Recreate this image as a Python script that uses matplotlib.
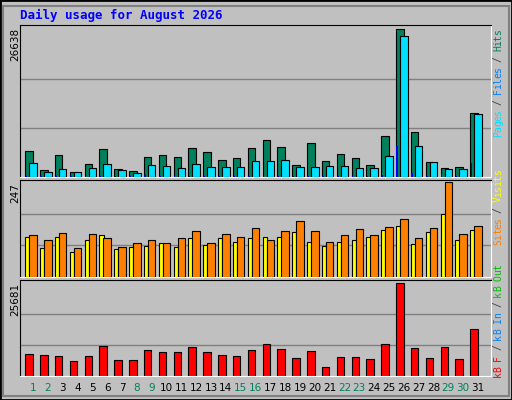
import matplotlib
matplotlib.use("Agg")
import matplotlib.pyplot as plt
from matplotlib.patches import Rectangle
import numpy as np

days = list(range(1, 32))
weekend = [1, 2, 8, 9, 15, 16, 22, 23, 29, 30]
hits = [4760, 1205, 3918, 964, 2290, 5123, 1507, 1145, 3677, 4038, 3677, 5304, 4580, 3134, 3496, 5304,
        6750, 5485, 2230, 6208, 2953, 4219, 3496, 2230, 7474, 26638, 8197, 2772, 1688, 1868, 11632]
files = [2592, 964, 1507, 964, 1688, 2411, 1326, 784, 2230, 2049, 1688, 2411, 1868, 1868, 1868, 2953,
         2953, 3134, 1868, 1868, 2049, 2049, 1688, 1688, 3857, 25373, 5665, 2772, 1507, 1507, 11451]
pages = [150, 120, 150, 100, 150, 180, 120, 100, 420, 200, 150, 200, 150, 150, 150, 200,
         200, 200, 150, 150, 150, 150, 150, 150, 300, 5665, 780, 200, 600, 150, 2592]
visits = [103, 76, 103, 65, 97, 108, 73, 78, 81, 89, 78, 100, 84, 100, 92, 100,
          105, 103, 116, 92, 81, 92, 95, 105, 121, 132, 87, 116, 164, 95, 121]
sites = [108, 97, 113, 76, 111, 100, 78, 89, 97, 89, 100, 119, 89, 111, 103, 127,
         95, 119, 145, 119, 92, 108, 124, 108, 129, 151, 100, 127, 247, 111, 132]
kbytes = [5997, 5716, 5435, 4029, 5435, 8246, 4310, 4310, 7121, 6559, 6559, 7965, 6559, 5716, 5435, 7121,
          8808, 7402, 4872, 6840, 2343, 5154, 5154, 4591, 8808, 25681, 7684, 4872, 7965, 4591, 13025]

W, H = 512, 400
fig = plt.figure(figsize=(W/100, H/100), dpi=100, facecolor="#c0c0c0")

def fx(x): return x / W
def fy(y): return 1 - y / H

# border
fig.patches.append(Rectangle((0, 0), 1, 1, transform=fig.transFigure, fill=False, ec="black", lw=2))
fig.patches.append(Rectangle((fx(3), fy(396)), fx(506), 390/H, transform=fig.transFigure,
                             fill=False, ec="#808080", lw=1.5))

fig.text(fx(20), fy(15), "Daily usage for August 2026", color="#0000ff", family="DejaVu Sans Mono",
         weight="bold", fontsize=9, va="center", ha="left")

x = np.arange(31)
L, R = 20, 491
panels = [(25, 177), (180, 277), (280, 376)]
axes = []
for top, bot in panels:
    ax = fig.add_axes([fx(L), fy(bot), (R - L)/W, (bot - top)/H])
    ax.set_facecolor("#c0c0c0")
    ax.set_xlim(-0.88, 30.88)
    ax.set_xticks([])
    ax.set_yticks([])
    for s in ["top", "left"]:
        ax.spines[s].set_color("black")
    for s in ["bottom", "right"]:
        ax.spines[s].set_color("white")
    axes.append(ax)

def setup(ax, mx, frac):
    ax.set_ylim(0, mx * frac)
    for g in (mx/3, 2*mx/3):
        ax.axhline(g, color="#808080", lw=1, zorder=0)

a1, a2, a3 = axes
setup(a1, 26638, 1.03)
a1.bar(x - 0.27, hits, width=0.5, color="#00805c", ec="black", lw=0.8, zorder=2)
a1.bar(x, files, width=0.5, color="#00e0ff", ec="black", lw=0.8, zorder=3)
a1.bar(x - 0.45, pages, width=0.1, color="#0000ff", lw=0, zorder=4)

setup(a2, 247, 1.02)
a2.bar(x - 0.38, visits, width=0.28, color="#ffff00", ec="black", lw=0.8, zorder=2)
a2.bar(x, sites, width=0.5, color="#ff8000", ec="black", lw=0.8, zorder=3)

setup(a3, 25681, 1.03)
a3.bar(x - 0.27, kbytes, width=0.5, color="#ff0000", ec="black", lw=0.8, zorder=2)

for ytop, lbl in [(28, "26638"), (183, "247"), (283, "25681")]:
    fig.text(fx(15), fy(ytop), lbl, rotation=90, fontsize=7.5, ha="center", va="top", color="black")

for d in days:
    fig.text(fx(33 + (d - 1) * 14.83), fy(388), str(d), ha="center", va="center", fontsize=7.5,
             color="#00805c" if d in weekend else "black")

def vlabel(parts, ybottom):
    step = 5.35
    y = ybottom
    for txt, col in parts:
        for ch in txt:
            fig.text(fx(498), fy(y), ch, rotation=90, family="DejaVu Sans Mono", fontsize=7,
                     ha="center", va="bottom", color=col)
            y -= step

vlabel([("Pages", "#00e0ff"), (" / ", "#404040"), ("Files", "#0080ff"), (" / ", "#404040"), ("Hits", "#00805c")], 137)
vlabel([("Sites", "#ff8000"), (" / ", "#404040"), ("Visits", "#ffff00")], 245)
vlabel([("kB F", "#ff0000"), (" / ", "#404040"), ("kB In", "#0080ff"), (" / ", "#404040"), ("kB Out", "#00c000")], 377)

fig.savefig("out.png", dpi=100, facecolor=fig.get_facecolor())
